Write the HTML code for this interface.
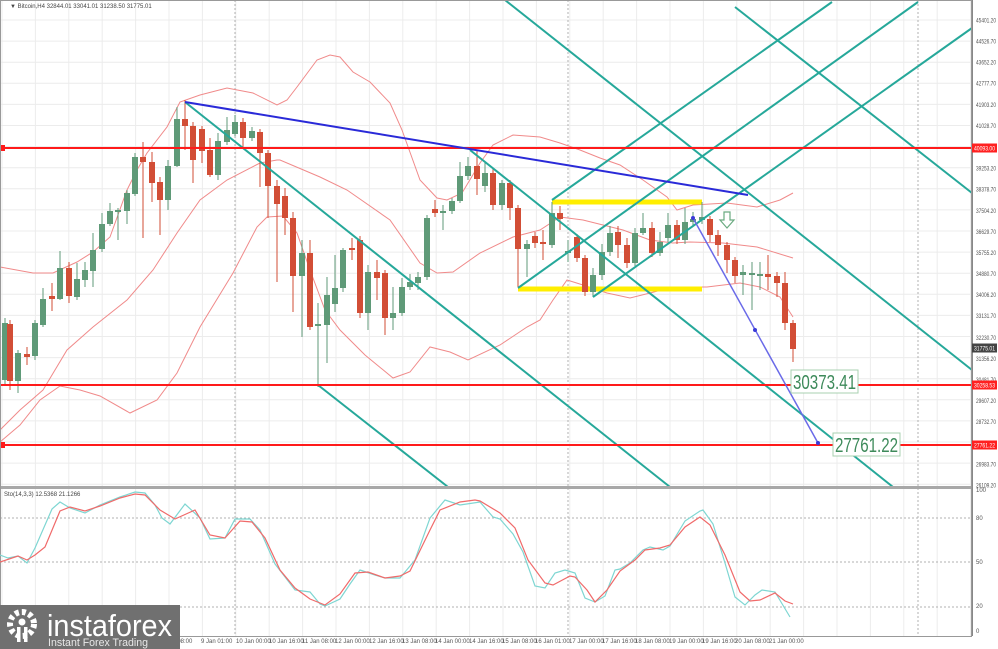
<!DOCTYPE html>
<html><head><meta charset="utf-8"><style>
html,body{margin:0;padding:0;background:#fff;}
svg{display:block;font-family:"Liberation Sans",sans-serif;}
</style></head><body>
<svg id="s" width="998" height="649" viewBox="0 0 998 649" xmlns="http://www.w3.org/2000/svg">
<rect x="0" y="0" width="998" height="649" fill="#fff"/>
<g id="grid" stroke="#ececec" stroke-width="1"></g>
<g stroke="#b0b0b0" stroke-width="1" stroke-dasharray="2,2">
<line x1="235" y1="0" x2="235" y2="636"/><line x1="568" y1="0" x2="568" y2="636"/><line x1="918" y1="0" x2="918" y2="636"/>
<line x1="0" y1="518" x2="972" y2="518"/><line x1="0" y1="562" x2="972" y2="562"/><line x1="0" y1="607" x2="972" y2="607"/>
</g>
<g fill="none" stroke="#f08a8a" stroke-width="1">
<polyline points="0,267 33,273 53,273 77,262 93,252 110,237 127,190 137,170 147,153 167,127 180,102 200,95 227,88 253,93 277,105 287,100 297,87 317,60 330,55 340,57 353,72 370,82 390,103 402,130 420,180 437,198 447,200 462,193 480,163 493,145 513,135 540,137 560,143 580,150 600,158 620,165 643,180 667,197 677,210 693,205 727,203 757,207 780,200 793,193"/>
<polyline points="0,430 20,410 43,390 67,350 93,327 127,300 153,270 177,233 200,200 227,180 260,163 277,160 280,160 320,177 347,190 390,220 420,263 437,273 453,272 480,253 513,237 540,230 560,217 583,220 623,230 650,240 673,243 690,242 723,243 757,247 793,258"/>
<polyline points="0,442 20,425 40,400 60,386 80,390 100,396 130,413 157,400 177,373 200,327 233,273 257,227 267,217 283,216 297,233 310,270 325,310 340,330 365,355 393,378 410,372 430,347 450,352 468,360 500,345 527,327 540,320 553,300 567,280 583,285 607,293 630,298 650,293 673,287 707,287 740,283 760,287 780,297 793,317"/>
</g>
<g stroke="#ffee00" stroke-width="5"><line x1="552" y1="202" x2="702" y2="202"/><line x1="518" y1="289" x2="702" y2="289"/></g>
<g id="candles"></g>
<g stroke="#26a89a" stroke-width="2">
<line x1="185" y1="102" x2="670" y2="487"/>
<line x1="318" y1="385" x2="448" y2="487"/>
<line x1="470" y1="150" x2="893" y2="487"/>
<line x1="505" y1="0" x2="972" y2="370"/>
<line x1="735" y1="7" x2="972" y2="193"/>
<line x1="552" y1="200" x2="832" y2="2"/>
<line x1="518" y1="288" x2="918" y2="2"/>
<line x1="593" y1="297" x2="972" y2="28"/>
</g>
<g stroke="#ff1a1a" stroke-width="2"><line x1="0" y1="148" x2="972" y2="148"/><line x1="0" y1="385" x2="972" y2="385"/><line x1="0" y1="445" x2="972" y2="445"/></g>
<rect x="0" y="145" width="5" height="6" fill="#ff1a1a"/><rect x="0" y="442" width="5" height="6" fill="#ff1a1a"/>
<line x1="185" y1="102" x2="748" y2="195" stroke="#2a2ad8" stroke-width="2"/>
<line x1="693" y1="218" x2="818" y2="443" stroke="#6a6ae8" stroke-width="1.5"/>
<circle cx="693" cy="218" r="2" fill="#3a3ad8"/><circle cx="755" cy="330" r="2" fill="#3a3ad8"/><circle cx="818" cy="443" r="2" fill="#3a3ad8"/>
<path d="M724,212 h6 v8 h4 l-7,8 l-7,-8 h4 z" fill="#fff" stroke="#6aaa80" stroke-width="1.2"/>
<rect x="791" y="370" width="67" height="23" fill="#fff" stroke="#a8d0b0"/>
<text x="824.5" y="389" font-size="20" fill="#3d8a5a" text-anchor="middle" textLength="63" lengthAdjust="spacingAndGlyphs">30373.41</text>
<rect x="833" y="433" width="67" height="23" fill="#fff" stroke="#a8d0b0"/>
<text x="866.5" y="452" font-size="20" fill="#3d8a5a" text-anchor="middle" textLength="63" lengthAdjust="spacingAndGlyphs">27761.22</text>
<rect x="0" y="486" width="972" height="3" fill="#a8a8a8"/>
<line x1="972.5" y1="0" x2="972.5" y2="636" stroke="#888"/>
<line x1="0" y1="636.5" x2="972" y2="636.5" stroke="#888"/>
<rect x="0.5" y="0.5" width="971" height="636" fill="none" stroke="#999"/>
<g id="axis" font-size="6" fill="#555"></g>
<g fill="none" stroke-width="1.2">
<polyline stroke="#7ed6d2" points="0,555 8,558 18,556 27,563 35,548 52,509 60,502 70,508 85,513 100,505 120,497 135,492 145,493 155,505 162,518 170,524 185,504 200,518 210,539 225,538 235,519 250,519 260,530 275,564 295,590 310,592 320,604 325,606 340,599 350,584 360,570 375,575 385,578 400,578 415,560 430,518 445,500 460,505 480,502 493,517 500,519 513,534 523,552 535,586 545,588 555,573 565,570 575,573 585,598 595,602 605,596 615,570 620,569 630,563 643,550 650,547 663,550 670,546 685,521 700,511 703,510 713,524 725,563 735,597 745,605 755,595 762,590 775,592 790,617"/>
<polyline stroke="#f06a6a" points="0,562 18,556 27,560 35,555 45,547 60,511 70,507 85,511 100,506 120,498 135,494 145,495 160,510 175,519 195,510 210,535 225,538 240,521 252,522 265,538 280,570 295,588 310,599 325,605 340,594 355,573 368,572 385,578 400,576 410,571 430,530 440,510 460,502 475,500 480,501 500,513 515,528 528,560 545,583 553,585 570,576 575,577 587,590 595,602 607,590 620,571 635,560 645,550 660,548 670,545 685,527 700,517 710,525 725,555 740,592 750,601 760,600 775,593 785,601 793,604"/>
</g>
<text x="4" y="496" font-size="6" fill="#444">Sto(14,3,3) 12.5368 21.1266</text>
<text x="10" y="8" font-size="6" fill="#444">▼ Bitcoin,H4  32844.01 33041.01 31238.50 31775.01</text>
<g id="time" font-size="6" fill="#555"></g>
<rect x="0" y="605" width="180" height="44" fill="#707070"/>
<g fill="#fff">
<circle cx="22" cy="624" r="12" fill="none" stroke="#fff" stroke-width="6" stroke-dasharray="4,3"/>
<circle cx="22" cy="622" r="3.5"/><rect x="17" y="627" width="3.5" height="15"/><rect x="24" y="627" width="3.5" height="15"/>
</g>
<text x="47" y="636" font-size="31" fill="#fff" textLength="125" lengthAdjust="spacingAndGlyphs">instaforex</text>
<text x="48" y="646" font-size="11" fill="#e8e8e8" textLength="100" lengthAdjust="spacingAndGlyphs">Instant Forex Trading</text>
</svg>
<script>
var NS="http://www.w3.org/2000/svg";
function el(p,t,a,txt){var e=document.createElementNS(NS,t);for(var k in a)e.setAttribute(k,a[k]);if(txt)e.textContent=txt;p.appendChild(e);return e;}
var g=document.getElementById('grid');
for(var y=20;y<486;y+=21.1)el(g,'line',{x1:0,y1:y,x2:972,y2:y});
for(var x=2;x<972;x+=33.4)el(g,'line',{x1:x,y1:0,x2:x,y2:636});
var C=[[5,323,380,318,385,'g'],[10,324,381,320,390,'r'],[18,353,381,350,393,'g'],[27,354,357,347,365,'r'],[35,323,356,320,360,'g'],[43,299,325,288,327,'g'],[52,296,299,283,311,'r'],[60,268,299,251,300,'g'],[69,268,296,262,303,'r'],[77,279,297,263,300,'g'],[85,270,280,262,287,'g'],[93,250,271,233,287,'g'],[102,224,249,213,252,'g'],[110,211,224,203,226,'g'],[118,210,212,208,240,'g'],[127,193,211,190,224,'g'],[135,157,194,153,196,'g'],[143,157,162,142,238,'r'],[152,162,183,152,202,'r'],[160,182,200,177,235,'r'],[168,166,200,160,210,'g'],[177,119,166,107,167,'g'],[185,119,126,100,150,'r'],[193,126,160,122,183,'r'],[202,129,151,126,163,'r'],[210,150,175,138,177,'r'],[218,141,175,133,180,'g'],[227,130,142,117,145,'g'],[235,122,134,115,136,'g'],[243,122,138,118,147,'r'],[252,131,138,127,141,'g'],[260,132,153,129,187,'r'],[268,153,186,150,218,'r'],[277,186,204,180,282,'r'],[285,196,218,188,235,'r'],[293,218,276,212,312,'r'],[302,253,276,240,337,'g'],[310,253,327,240,330,'r'],[318,324,326,303,387,'g'],[327,295,325,277,363,'g'],[335,288,304,255,312,'g'],[343,250,288,248,292,'g'],[352,248,250,238,260,'r'],[360,240,313,236,318,'r'],[368,272,313,265,330,'g'],[377,272,278,260,300,'r'],[385,273,318,270,335,'r'],[393,313,318,287,330,'g'],[402,287,313,278,316,'g'],[410,282,287,274,290,'g'],[418,277,283,272,290,'g'],[427,218,277,215,280,'g'],[435,209,213,200,217,'r'],[443,211,213,205,230,'g'],[452,201,211,198,214,'g'],[460,176,201,162,203,'g'],[468,166,176,157,180,'g'],[477,166,179,150,195,'r'],[485,173,186,162,192,'g'],[493,173,205,168,210,'r'],[502,183,205,180,210,'g'],[510,183,208,180,220,'r'],[518,208,249,205,287,'r'],[527,244,249,240,277,'g'],[535,236,243,232,248,'r'],[543,242,244,230,260,'r'],[552,213,245,202,248,'g'],[560,213,219,206,230,'r'],[568,251,253,240,262,'g'],[577,237,258,234,262,'r'],[585,258,292,255,296,'r'],[593,275,292,268,297,'g'],[602,252,275,244,280,'g'],[610,233,252,226,256,'g'],[618,232,245,226,258,'r'],[627,245,263,238,268,'r'],[635,233,263,228,266,'g'],[643,228,233,213,235,'g'],[652,228,253,222,257,'r'],[660,242,253,232,256,'g'],[668,225,238,213,242,'g'],[677,225,240,220,244,'r'],[685,222,240,208,244,'g'],[693,219,222,212,226,'g'],[702,217,220,202,224,'g'],[710,219,235,216,242,'r'],[718,235,245,230,256,'r'],[727,245,260,242,273,'r'],[735,260,276,257,283,'r'],[743,272,275,265,295,'g'],[752,273,275,262,310,'g'],[760,274,276,262,290,'g'],[768,274,277,255,290,'r'],[777,276,283,272,297,'r'],[785,283,323,272,330,'r'],[793,323,349,320,362,'r']];
var cg=document.getElementById('candles');
C.forEach(function(c){var col=c[5]=='g'?'#5f9a78':'#d24e36';
el(cg,'line',{x1:c[0],y1:c[3],x2:c[0],y2:c[4],stroke:col,'stroke-width':1});
el(cg,'rect',{x:c[0]-3,y:c[1],width:6,height:Math.max(1.5,c[2]-c[1]),fill:col});});
var ax=document.getElementById('axis');
var labs=['45401.20','44526.70','43652.20','42777.70','41903.20','41028.70','40153.70','39253.20','38378.70','37504.20','36629.70','35755.20','34880.70','34006.20','33131.70','32230.70','31356.20','30481.70','29607.20','28732.70','27858.20','26983.70','26109.20'];
labs.forEach(function(l,i){var v=parseFloat(l);var y=20+(45401.2-v)*0.0241;
if(i==6||i==20)return;el(ax,'text',{x:976,y:y+2.5,textLength:20,lengthAdjust:'spacingAndGlyphs'},l);});
function tag(y,t,c){el(ax,'rect',{x:972,y:y-4.5,width:25,height:9,fill:c});el(ax,'text',{x:974,y:y+2.5,fill:'#fff',textLength:21,lengthAdjust:'spacingAndGlyphs'},t);}
tag(148,'40093.00','#ff2020');tag(348,'31775.01','#444');tag(385,'30258.53','#ff2020');tag(445,'27761.22','#ff2020');
[['100',492],['80',520],['50',564],['20',608],['0',633]].forEach(function(a){el(ax,'text',{x:976,y:a[1]},a[0]);});
var tg=document.getElementById('time');
var T=[[160,'8 Jan 08:00'],[200,'9 Jan 01:00'],[235,'10 Jan 00:00'],[268,'10 Jan 16:00'],[301,'11 Jan 08:00'],[334,'12 Jan 00:00'],[368,'12 Jan 16:00'],[401,'13 Jan 08:00'],[434,'14 Jan 00:00'],[468,'14 Jan 16:00'],[501,'15 Jan 08:00'],[534,'16 Jan 01:00'],[568,'17 Jan 00:00'],[601,'17 Jan 16:00'],[634,'18 Jan 08:00'],[668,'19 Jan 00:00'],[701,'19 Jan 16:00'],[734,'20 Jan 08:00'],[768,'21 Jan 00:00']];
T.forEach(function(t){el(tg,'text',{x:t[0]+1,y:643},t[1]);});
</script>
</body></html>
